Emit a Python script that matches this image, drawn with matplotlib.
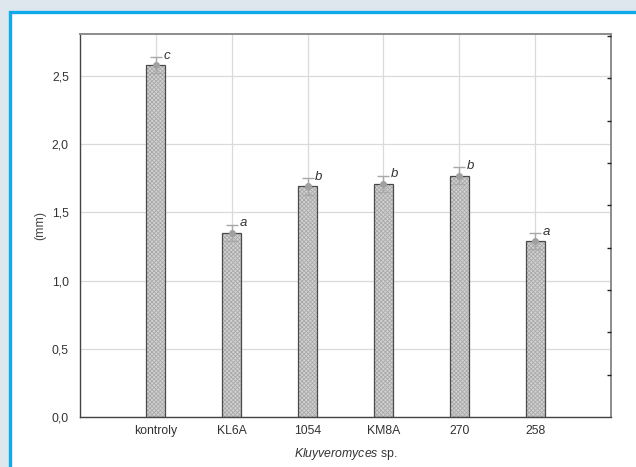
import numpy as np
import matplotlib.pyplot as plt
from matplotlib.patches import Rectangle

# strains and mean lesion diameters (mm) with their spread
strains = ['kontroly', 'KL6A', '1054', 'KM8A', '270', '258']
means = [2.58, 1.35, 1.69, 1.71, 1.77, 1.29]
errors = [0.06, 0.06, 0.06, 0.06, 0.06, 0.06]
groups = ['c', 'a', 'b', 'b', 'b', 'a']
yticks = [0.0, 0.5, 1.0, 1.5, 2.0, 2.5]

plt.rcParams['font.family'] = ['Liberation Sans', 'DejaVu Sans']
plt.rcParams['mathtext.fontset'] = 'custom'
plt.rcParams['mathtext.it'] = 'Liberation Sans:italic'
plt.rcParams['mathtext.rm'] = 'Liberation Sans'
plt.rcParams['hatch.linewidth'] = 0.6

fig = plt.figure(figsize=(6.36, 4.67), dpi=100)
fig.patch.set_facecolor('#dde7ed')

# white panel with a blue frame, kept behind the axes
panel = Rectangle((10/636, -0.05), 1.0, 1 - 12/467 + 0.05, transform=fig.transFigure,
                  facecolor='white', edgecolor='#12a8ec', linewidth=2.4, zorder=-10)
fig.patches.append(panel)

ax = fig.add_axes([80/636, 50/467, 531/636, 383/467])
ax.set_facecolor('white')

x = np.arange(1, len(strains) + 1)

# hatched fill, then a dark outline on top
ax.bar(x, means, width=0.25, color='#d2d2d2', edgecolor='#a9a9a9', hatch='xxxxxxxx',
       linewidth=0, zorder=2)
ax.bar(x, means, width=0.25, fill=False, edgecolor='#4a4a4a', linewidth=0.9, zorder=3)

ax.errorbar(x, means, yerr=errors, fmt='o', color='#a0a0a0', markersize=4,
            ecolor='#a8a8a8', elinewidth=1, capsize=4, capthick=1, zorder=4)

for xi, m, e, g in zip(x, means, errors, groups):
    ax.text(xi + 0.1, m + e + 0.01, g, style='italic', fontsize=9.5,
            color='#333333', ha='left', va='center', zorder=5)

ax.set_xlim(0, 7)
ax.set_ylim(0, 2.808)
ax.set_xticks(x)
ax.set_xticklabels(strains)
ax.set_yticks(yticks)
ax.set_yticklabels([f'{v:.1f}'.replace('.', ',') for v in yticks])
ax.tick_params(axis='both', labelsize=8.8, colors='#333333', length=0, pad=8)
ax.tick_params(axis='x', direction='in', length=3, color='#444444', pad=6)

ax.grid(True, color='#dadada', linewidth=0.9, zorder=0)
ax.set_axisbelow(True)

for side in ['left', 'bottom']:
    ax.spines[side].set_color('#444444')
    ax.spines[side].set_linewidth(1.0)
for side in ['top', 'right']:
    ax.spines[side].set_color('#8c8c8c')
    ax.spines[side].set_linewidth(1.4)

ax.set_ylabel('(mm)', fontsize=8.8, color='#444444', labelpad=4)
ax.set_xlabel(r'$\it{Kluyveromyces}$ sp.', fontsize=8.8, color='#333333', labelpad=6)

# secondary scale on the right, only its inward ticks show
ax2 = ax.twinx()
ax2.set_ylim(0, 90.5)
ax2.set_yticks(np.arange(10, 91, 10))
ax2.set_yticklabels([])
ax2.tick_params(axis='y', direction='in', length=3, color='#222222', width=1)
for side in ['left', 'right', 'top', 'bottom']:
    ax2.spines[side].set_visible(False)

fig.savefig('out.png', dpi=100, facecolor=fig.get_facecolor())
